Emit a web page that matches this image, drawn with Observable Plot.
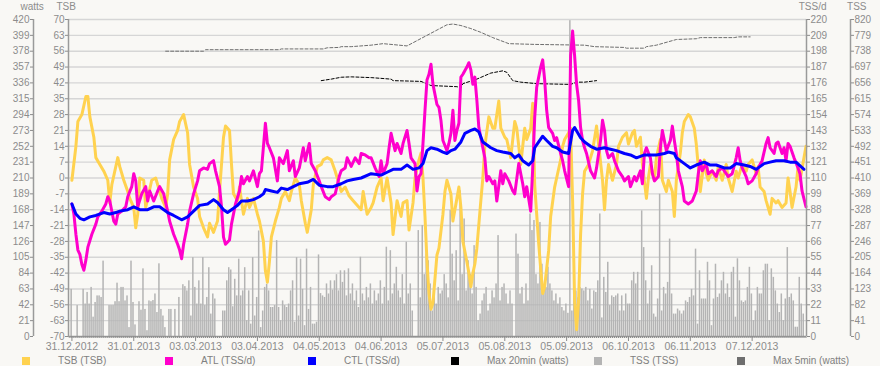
<!DOCTYPE html>
<html><head><meta charset="utf-8">
<script src="https://cdn.jsdelivr.net/npm/d3@7"></script>
<script src="https://cdn.jsdelivr.net/npm/@observablehq/plot@0.6"></script>
<style>
html,body{margin:0;padding:0;background:#f9f8f5;}
#wrap{width:880px;height:366px;position:relative;background:#f9f8f5;font-family:"Liberation Sans",Arial,sans-serif;}
#chart svg{display:block;}
#legend{position:absolute;left:0;top:352px;width:880px;height:14px;}
#legend .sw{position:absolute;top:5px;width:8px;height:8px;}
#legend .lb{position:absolute;top:3px;font-size:10px;line-height:11px;color:#808080;white-space:nowrap;}
</style></head>
<body><div id="wrap"><div id="chart"></div><div id="legend"></div></div>
<script>
// ---- data (day offset from 31.12.2012, value) ----
const tickLabelDates = ["2012-12-31","2013-01-31","2013-03-03","2013-04-03","2013-05-04","2013-06-04","2013-07-05","2013-08-05","2013-09-05","2013-10-06","2013-11-06","2013-12-07"];
const seriesNames = ["TSB (TSB)","ATL (TSS/d)","CTL (TSS/d)","Max 20min (watts)","TSS (TSS)","Max 5min (watts)"];
const axisTitles = ["watts","TSB","TSS/d","TSS"];

const tsb = [[0,-1],[2,14],[3,25],[5,28],[7,36],[8,36],[9,27],[11,18],[12,9],[14,6],[16,3],[18,-1],[19,-11],[20,-3],[23,9],[24,5],[26,-1],[28,-6],[29,-9],[31,-13],[32,-22],[33,-16],[34,0],[36,-1],[37,-13],[38,-9],[40,-1],[42,0],[43,-3],[45,-9],[47,-13],[48,-7],[49,8],[51,17],[53,21],[54,25],[56,28],[58,20],[59,6],[61,-4],[63,-9],[64,-17],[66,-22],[68,-26],[69,-20],[71,-24],[73,-19],[74,-6],[76,18],[77,23],[79,21],[80,6],[81,-7],[83,-10],[84,-4],[86,-16],[88,-9],[89,-13],[91,-9],[93,-16],[94,-19],[96,-28],[97,-41],[98,-46],[99,-37],[100,-26],[102,-19],[104,-13],[105,-9],[107,-6],[109,-10],[110,-6],[112,0],[114,-3],[115,-10],[117,-20],[118,-24],[120,-14],[121,-3],[123,5],[125,6],[126,8],[128,9],[130,8],[132,3],[134,-3],[135,-6],[137,-4],[139,-8],[141,-10],[143,-12],[145,-14],[146,-6],[148,-16],[150,-13],[151,-11],[153,-4],[155,0],[156,-10],[158,0],[160,-11],[161,-25],[163,-10],[165,-17],[166,-11],[168,-10],[169,-23],[171,-11],[172,0],[174,8],[175,11],[176,0],[177,-17],[178,-37],[179,-51],[180,-58],[181,-55],[183,-34],[184,-31],[186,-16],[187,-6],[188,-1],[190,-7],[191,-19],[193,-9],[194,-4],[195,-13],[196,-28],[198,-37],[199,-42],[200,-48],[201,-42],[202,-38],[203,-31],[205,-10],[206,0],[207,14],[209,27],[211,22],[212,22],[214,34],[215,22],[217,18],[218,17],[220,9],[222,25],[223,22],[225,6],[227,22],[228,17],[230,22],[231,33],[232,-3],[234,-29],[235,-40],[236,-51],[237,-48],[239,-32],[240,-17],[242,-4],[243,0],[245,8],[246,14],[247,17],[249,20],[250,22],[251,-10],[252,-54],[253,-67],[254,-54],[255,-25],[256,-7],[257,3],[259,6],[261,12],[263,23],[264,15],[266,-1],[267,-14],[268,-1],[269,6],[271,-1],[273,6],[274,14],[276,18],[278,20],[279,15],[281,20],[282,21],[283,14],[285,18],[286,6],[288,-9],[289,0],[290,6],[292,-1],[293,9],[295,17],[296,-1],[298,-6],[299,-1],[301,-6],[302,-17],[303,-1],[305,11],[306,20],[307,25],[309,28],[310,27],[312,22],[313,15],[314,5],[315,-6],[317,8],[318,2],[319,-1],[321,3],[323,-1],[324,5],[326,-1],[328,6],[329,0],[331,-6],[333,3],[334,0],[336,6],[338,3],[339,6],[341,8],[343,2],[344,5],[345,-4],[347,-6],[348,-10],[350,-16],[351,-9],[353,-11],[354,-10],[356,-13],[358,-11],[359,0],[360,-6],[361,-13],[363,-4],[364,5],[365,-1],[367,9],[368,14]];

const atl = [[0,92],[1,85],[2,71],[3,60],[4,57],[5,50],[6,46],[7,53],[8,62],[10,71],[12,78],[13,83],[15,87],[17,92],[18,97],[19,94],[21,80],[22,78],[23,85],[25,87],[27,90],[28,97],[30,104],[31,113],[32,108],[33,90],[35,99],[37,104],[38,94],[39,101],[41,94],[43,101],[44,104],[46,99],[48,87],[49,80],[51,71],[53,64],[54,60],[55,54],[56,64],[58,78],[59,87],[61,99],[63,108],[64,115],[66,117],[68,116],[69,120],[71,122],[72,115],[74,104],[75,90],[76,69],[77,64],[79,67],[80,78],[82,92],[84,101],[85,111],[86,106],[88,111],[89,108],[91,115],[93,104],[94,113],[95,115],[97,148],[98,134],[99,131],[101,124],[103,108],[104,124],[106,120],[108,129],[109,115],[111,122],[112,111],[114,117],[116,131],[117,122],[119,134],[120,120],[122,115],[124,108],[125,104],[127,97],[129,95],[130,97],[132,99],[134,111],[135,115],[137,117],[138,124],[140,118],[142,124],[144,120],[145,127],[147,126],[149,124],[150,124],[152,117],[154,111],[155,122],[156,113],[158,120],[159,131],[160,141],[162,129],[163,134],[165,127],[166,134],[168,143],[169,134],[170,124],[172,120],[173,101],[174,111],[175,113],[176,134],[177,157],[178,178],[179,182],[180,189],[181,175],[183,161],[184,159],[185,150],[186,136],[188,129],[189,134],[190,141],[191,157],[192,136],[193,143],[194,148],[195,180],[196,182],[198,187],[199,190],[200,185],[201,175],[202,180],[203,164],[204,145],[206,131],[207,124],[208,108],[209,111],[211,106],[212,108],[213,94],[215,115],[216,106],[217,113],[219,108],[221,101],[222,99],[224,120],[226,106],[227,97],[228,104],[230,87],[231,117],[232,152],[233,173],[234,180],[235,187],[236,192],[237,178],[238,157],[239,145],[241,141],[242,136],[243,138],[245,127],[246,122],[247,115],[249,104],[250,195],[251,212],[252,195],[253,175],[254,164],[255,145],[256,136],[257,131],[258,127],[260,115],[262,110],[263,117],[265,136],[266,150],[267,143],[268,129],[269,124],[271,127],[272,122],[274,115],[276,111],[277,108],[279,111],[280,104],[282,111],[283,108],[285,115],[286,106],[287,127],[288,131],[290,124],[291,113],[292,108],[294,111],[295,131],[296,143],[297,136],[298,129],[300,136],[301,146],[302,136],[303,127],[304,115],[306,104],[307,94],[309,92],[311,94],[313,101],[314,113],[315,122],[316,115],[318,120],[319,113],[321,115],[323,111],[324,115],[326,117],[328,113],[329,111],[331,113],[333,124],[334,131],[335,122],[336,117],[338,111],[339,106],[341,108],[343,113],[344,117],[346,122],[348,134],[349,138],[350,131],[352,127],[353,134],[354,135],[356,127],[357,131],[358,122],[359,134],[360,132],[362,124],[364,117],[365,113],[366,101],[368,90]];

const ctl = [[0,92],[2,85],[4,82],[6,81],[9,83],[12,84],[16,86],[19,85],[22,86],[24,87],[28,88],[31,90],[34,88],[38,88],[41,90],[44,90],[48,86],[51,84],[55,81],[58,83],[61,87],[64,91],[68,92],[71,95],[73,93],[76,88],[78,86],[80,88],[83,91],[85,94],[88,94],[91,95],[94,97],[96,99],[97,102],[100,101],[103,100],[105,103],[108,102],[111,104],[114,106],[118,107],[121,109],[124,105],[128,104],[131,104],[135,106],[138,108],[141,109],[145,110],[150,113],[155,112],[158,114],[161,116],[165,116],[168,119],[171,116],[174,117],[176,120],[178,129],[180,131],[183,130],[186,128],[188,127],[190,129],[192,130],[195,135],[197,141],[200,143],[202,144],[204,142],[206,135],[210,131],[213,129],[216,128],[220,127],[222,124],[224,126],[226,122],[229,119],[231,122],[232,131],[234,135],[236,139],[238,136],[241,132],[243,131],[246,128],[249,127],[251,143],[252,145],[255,138],[257,135],[260,132],[263,130],[267,131],[270,130],[273,129],[277,127],[280,126],[283,124],[287,126],[290,126],[293,126],[297,127],[299,128],[302,127],[303,124],[307,120],[310,117],[313,119],[317,121],[320,119],[323,119],[327,117],[330,117],[333,120],[337,119],[340,118],[343,116],[347,120],[350,121],[353,122],[357,122],[360,121],[363,121],[367,116]];

const max20 = [[125,339],[130,341],[135,343.5],[140,344],[150,343],[160,341],[161,339],[175,338],[180,332.5],[193,331],[195,329.5],[196,335],[203,341],[210,349],[216,352],[218,350],[221,339],[225,337],[233,335],[250,334],[253,337],[257,337],[263,339]];

const max5 = [[47,378],[66,378],[67,380],[104,380],[105,381],[126,381],[128,382.5],[134,383],[135,384],[140,384],[150,386],[156,388],[168,385],[173,392],[178,399],[183,406],[188,413],[191,414],[195,412],[200,408],[205,403],[211,396],[219,388],[232,387],[257,386],[262,384],[277,383],[278,382],[287,382],[288,384],[293,386],[301,392],[303,393.5],[313,394.5],[315,396],[332,396],[334,397],[340,397]];

// daily TSS, index = day offset
const tss = [122,0,0,80,0,0,122,84,114,84,
127,50,88,105,105,101,195,0,0,80,
80,80,90,138,90,127,127,92,105,23,
195,88,30,0,90,68,175,70,15,92,
90,93,110,62,188,70,53,23,0,70,
70,0,70,0,101,0,134,129,118,144,
53,204,127,84,144,84,204,80,101,178,
58,110,97,0,0,0,66,66,144,178,
172,77,148,105,200,105,118,178,41,118,
32,204,53,101,273,23,66,127,135,118,
75,75,80,248,75,41,92,80,75,84,
118,144,37,204,53,200,122,28,226,70,
127,32,32,37,211,111,105,101,136,110,
144,120,144,160,118,170,140,170,105,175,
110,136,92,118,75,205,110,92,127,100,
136,84,118,92,110,144,84,127,231,92,
222,110,136,179,118,100,160,84,244,110,
136,66,0,0,274,100,287,160,213,196,
136,66,118,84,127,110,118,160,136,100,
326,213,144,222,92,377,160,304,118,196,
161,110,235,127,41,58,92,110,127,66,
84,118,100,136,261,92,127,136,110,84,
118,84,0,265,213,110,127,84,136,92,
317,274,300,160,136,295,187,118,127,179,
136,118,92,110,84,100,75,66,84,60,
817,66,110,118,100,127,123,118,127,92,
122,71,118,114,144,317,48,153,114,192,
80,105,101,105,110,66,105,66,110,84,
84,144,166,136,166,41,325,230,144,84,
118,183,58,50,97,368,66,127,110,140,
252,110,58,58,71,66,58,66,92,88,
101,122,105,226,32,170,97,97,97,192,
144,28,97,187,101,110,144,166,110,136,
101,166,179,50,201,144,92,88,92,127,
179,110,41,66,127,110,110,170,187,187,
41,175,153,118,84,62,110,41,97,230,
101,110,92,24,24,153,84,58];

// ---- chart ----
const DAY = 864e5;
const t0 = Date.UTC(2012, 11, 31);
const day = d => new Date(t0 + d * DAY);
const xDomain = [new Date(Date.UTC(2012, 11, 29, 7)), new Date(Date.UTC(2014, 0, 3, 6))];
const tickDates = tickLabelDates.map(s => new Date(s + "T00:00:00Z"));
const allDays = d3.utcDays(new Date(Date.UTC(2012, 11, 30)), xDomain[1]);
const units = d3.range(0, 21);
const fmt = d3.utcFormat("%d.%m.%Y");
const tssRows = tss.map((v, i) => ({d: i, v}));

const COLORS = {tsb: "#ffd24f", atl: "#ff00cc", ctl: "#0000ff", max20: "#000000", tss: "#b4b4b4", max5: "#6e6e6e"};
const AX = "#8c8c8c";

const chart = Plot.plot({
  width: 880, height: 352,
  marginLeft: 68, marginRight: 74, marginTop: 19, marginBottom: 16,
  style: {background: "#f9f8f5", fontFamily: "'Liberation Sans', Arial, sans-serif", fontSize: "10px", color: AX},
  x: {type: "utc", domain: xDomain},
  y: {domain: [0, 20]},
  marks: [
    Plot.gridY(units.slice(1), {stroke: "#d6d6d6", strokeOpacity: 1, strokeWidth: 1.4}),
    Plot.rectY(tssRows, {x1: r => new Date(t0 + r.d * DAY - 0.5 * DAY), x2: r => new Date(t0 + r.d * DAY + 0.5 * DAY), y1: 0, y2: r => r.v / 41, fill: COLORS.tss, insetRight: 0.5}),
    Plot.line(max5, {x: d => day(d[0]), y: d => d[1] / 21, stroke: COLORS.max5, strokeWidth: 1, strokeDasharray: "3,2"}),
    Plot.line(max20, {x: d => day(d[0]), y: d => d[1] / 21, stroke: COLORS.max20, strokeWidth: 1, strokeDasharray: "3,2"}),
    Plot.line(tsb, {x: d => day(d[0]), y: d => (d[1] + 70) / 7, stroke: COLORS.tsb, strokeWidth: 3}),
    Plot.line(atl, {x: d => day(d[0]), y: d => d[1] / 11, stroke: COLORS.atl, strokeWidth: 3}),
    Plot.line(ctl, {x: d => day(d[0]), y: d => d[1] / 11, stroke: COLORS.ctl, strokeWidth: 3}),
    // axis lines
    Plot.ruleY([0], {stroke: "#9a9a9a", strokeWidth: 1.5}),
    Plot.ruleX([xDomain[0]], {stroke: "#9a9a9a", strokeWidth: 1.5}),
    Plot.ruleX([xDomain[0]], {stroke: "#9a9a9a", strokeWidth: 1.5, dx: -35}),
    Plot.ruleX([xDomain[1]], {stroke: "#9a9a9a", strokeWidth: 1.5}),
    Plot.ruleX([xDomain[1]], {stroke: "#9a9a9a", strokeWidth: 1.5, dx: 44}),
    // y axes
    Plot.axisY(units, {anchor: "left", tickSize: 3, tickPadding: 1, tickFormat: g => `${g * 7 - 70}`, color: AX, label: null}),
    Plot.axisY(units, {anchor: "left", tickSize: 3, tickPadding: 1, tickFormat: g => `${g * 21}`, color: AX, label: null, dx: -35}),
    Plot.axisY(units, {anchor: "right", tickSize: 3, tickPadding: 1, tickFormat: g => `${g * 11}`, color: AX, label: null}),
    Plot.axisY(units, {anchor: "right", tickSize: 3, tickPadding: 1, tickFormat: g => `${g * 41}`, color: AX, label: null, dx: 44}),
    // x axes
    Plot.axisX(allDays, {tickSize: 2, tickFormat: () => "", color: AX, label: null}),
    Plot.axisX(tickDates, {tickSize: 5, tickPadding: 1, tickFormat: fmt, color: AX, label: null, fontSize: 10.5}),
    // axis titles
    Plot.text([axisTitles[0]], {frameAnchor: "top-left", dx: -48, dy: -13, fill: AX, lineAnchor: "middle"}),
    Plot.text([axisTitles[1]], {frameAnchor: "top-left", dx: -12, dy: -13, fill: AX, lineAnchor: "middle"}),
    Plot.text([axisTitles[2]], {frameAnchor: "top-right", dx: 20, dy: -13, fill: AX, lineAnchor: "middle"}),
    Plot.text([axisTitles[3]], {frameAnchor: "top-right", dx: 60, dy: -13, fill: AX, lineAnchor: "middle"})
  ]
});
document.getElementById("chart").appendChild(chart);

// legend
const legendColors = [COLORS.tsb, COLORS.atl, COLORS.ctl, COLORS.max20, COLORS.tss, COLORS.max5];
const lg = document.getElementById("legend");
seriesNames.forEach((name, i) => {
  const sx = 22 + i * 143;
  const sw = document.createElement("div");
  sw.className = "sw"; sw.style.left = sx + "px"; sw.style.background = legendColors[i];
  const lb = document.createElement("div");
  lb.className = "lb"; lb.style.left = (sx + 36) + "px"; lb.textContent = name;
  lg.appendChild(sw); lg.appendChild(lb);
});
</script>
</body></html>
